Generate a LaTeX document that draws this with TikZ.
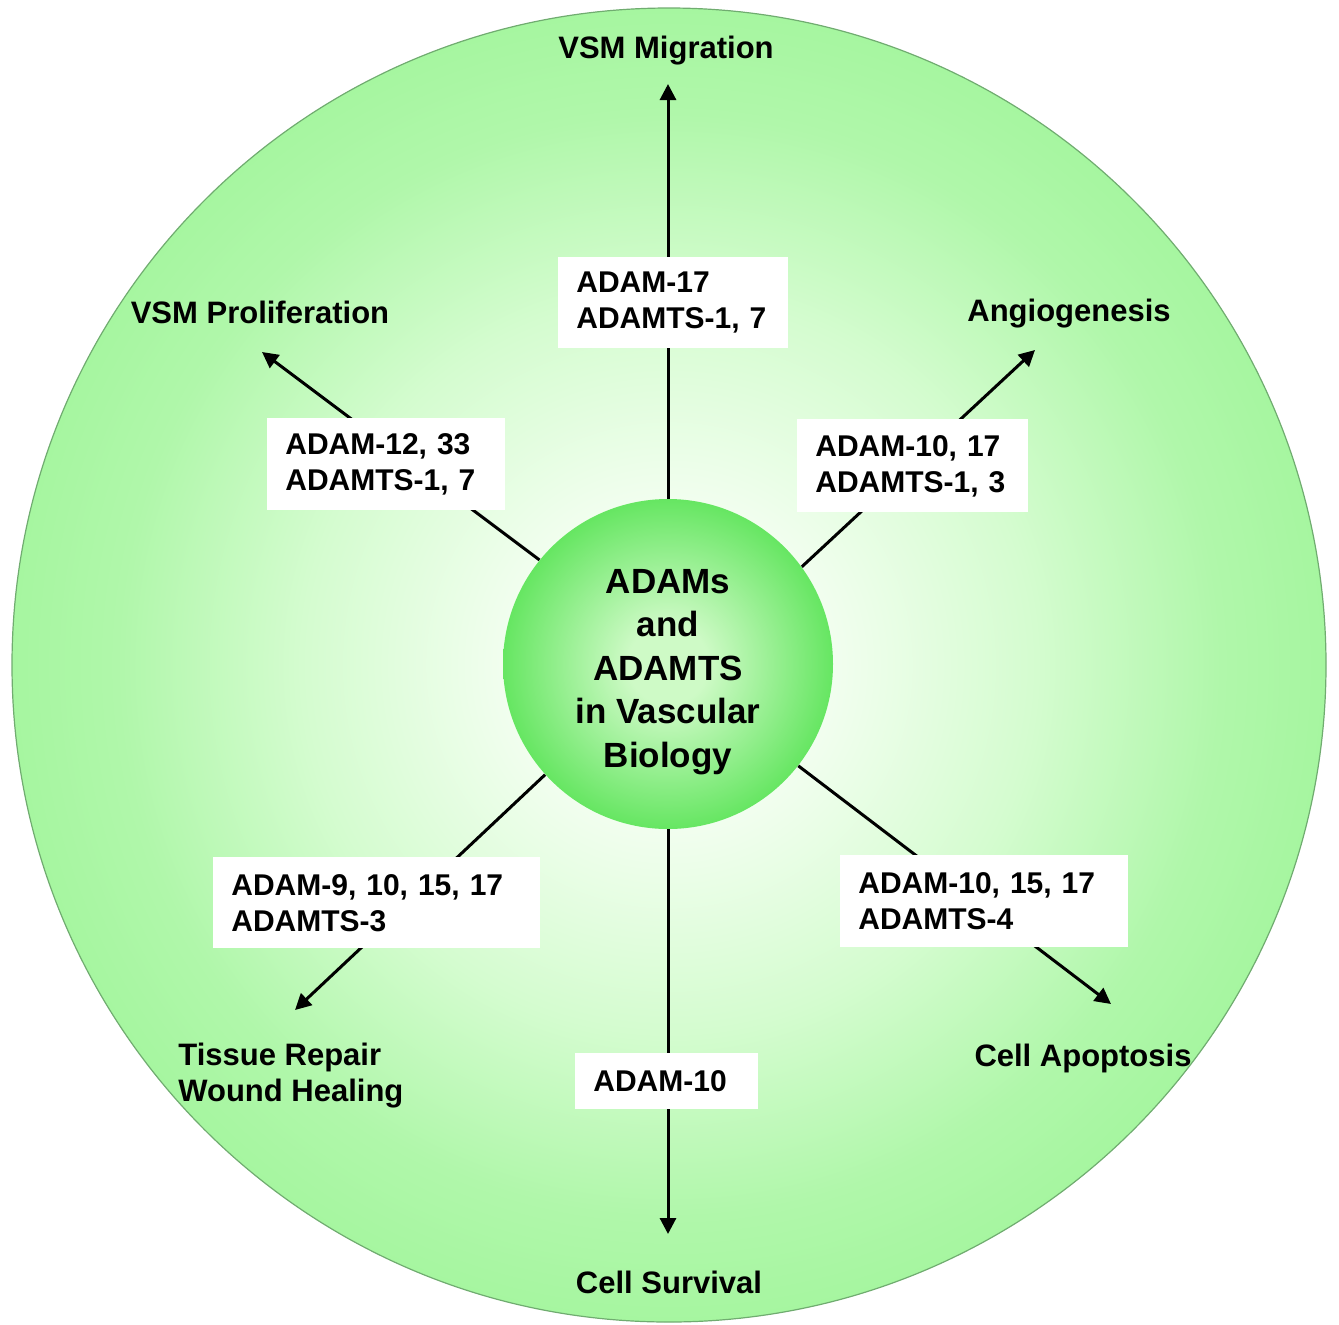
\documentclass[tikz,border=0pt]{standalone}
\usepackage{fontspec}
\setmainfont{Liberation Sans}
\usetikzlibrary{arrows.meta}
\definecolor{gedge}{RGB}{166,246,160}
\definecolor{gmid}{RGB}{212,252,207}
\definecolor{gmid2}{RGB}{176,247,170}
\definecolor{gcenter}{RGB}{248,255,246}
\definecolor{hubedge}{RGB}{102,230,98}
\definecolor{hubcenter}{RGB}{206,250,198}
\definecolor{rimline}{RGB}{112,172,112}
\pgfdeclareradialshading{outerg}{\pgfpoint{0bp}{0bp}}{color(0bp)=(gcenter); color(4.5bp)=(gcenter); color(14bp)=(gmid); color(21bp)=(gmid2); color(25bp)=(gedge); color(50bp)=(gedge)}
\pgfdeclareradialshading{hubg}{\pgfpoint{0bp}{0bp}}{color(0bp)=(hubcenter); color(6bp)=(hubcenter); color(25bp)=(hubedge); color(50bp)=(hubedge)}
\tikzset{
  lab/.style={font=\bfseries\fontsize{15.5}{18}\selectfont, inner sep=0pt},
  enzbox/.style={fill=white, anchor=north west, align=left, inner xsep=9pt, inner ysep=0pt,
     font=\bfseries\fontsize{15}{18}\selectfont},
  arr/.style={line width=1.5pt, -{Triangle[length=8pt,width=8pt]}},
}
\begin{document}
\begin{tikzpicture}[x=0.5pt,y=-0.5pt]
\useasboundingbox (0,0) rectangle (1339,1324);
% outer disc
\shade[shading=outerg] (669,665) circle[radius=328.5pt];
\draw[rimline, line width=0.6pt] (669,665) circle[radius=328.5pt];
% hub
\node[circle, minimum size=165pt, inner sep=0pt, shading=hubg] (hub) at (668,664) {};
\node[align=center, inner sep=0pt, font=\bfseries\fontsize{17.5}{21.75}\selectfont] (hubtxt) at (668,672)
      {ADAMs\\and\\ADAMTS\\in Vascular\\Biology};
% arrow tips
\coordinate (tN)  at (668,84);
\coordinate (tS)  at (668,1234);
\coordinate (tNW) at (262,352);
\coordinate (tNE) at (1035,350);
\coordinate (tSW) at (295,1010);
\coordinate (tSE) at (1111,1004);
% connectors
\draw[arr] (hub.90) -- (tN);
\draw[arr] (hub.270) -- (tS);
\draw[arr] (hub.141.9) -- (tNW);
\draw[arr] (hub.36) -- (tNE);
\draw[arr] (hub.222.3) -- (tSW);
\draw[arr] (hub.322.4) -- (tSE);
% enzyme boxes
\node[enzbox, text width=97pt, minimum height=45.5pt] (bN) at (558,257) {ADAM-17\\ADAMTS-1, 7};
\node[enzbox, text width=101pt, minimum height=46pt] (bNW) at (267,418) {ADAM-12, 33\\ADAMTS-1, 7};
\node[enzbox, text width=97.5pt, minimum height=46.5pt] (bNE) at (797,419) {ADAM-10, 17\\ADAMTS-1, 3};
\node[enzbox, text width=145.5pt, minimum height=45.5pt] (bSW) at (213,857) {ADAM-9, 10, 15, 17\\ADAMTS-3};
\node[enzbox, text width=126pt, minimum height=46pt] (bSE) at (840,855) {ADAM-10, 15, 17\\ADAMTS-4};
\node[enzbox, text width=73.5pt, minimum height=28pt] (bS) at (575,1053) {ADAM-10};
% outcome labels
\node[lab] (lN) at (666,51) {VSM Migration};
\node[lab] (lNW) at (260,312) {VSM Proliferation};
\node[lab] (lNE) at (1069,314) {Angiogenesis};
\node[lab, align=left, anchor=west] (lSW) at (178,1076) {Tissue Repair\\Wound Healing};
\node[lab] (lSE) at (1083,1058) {Cell Apoptosis};
\node[lab] (lS) at (669,1282) {Cell Survival};
\end{tikzpicture}
\end{document}
